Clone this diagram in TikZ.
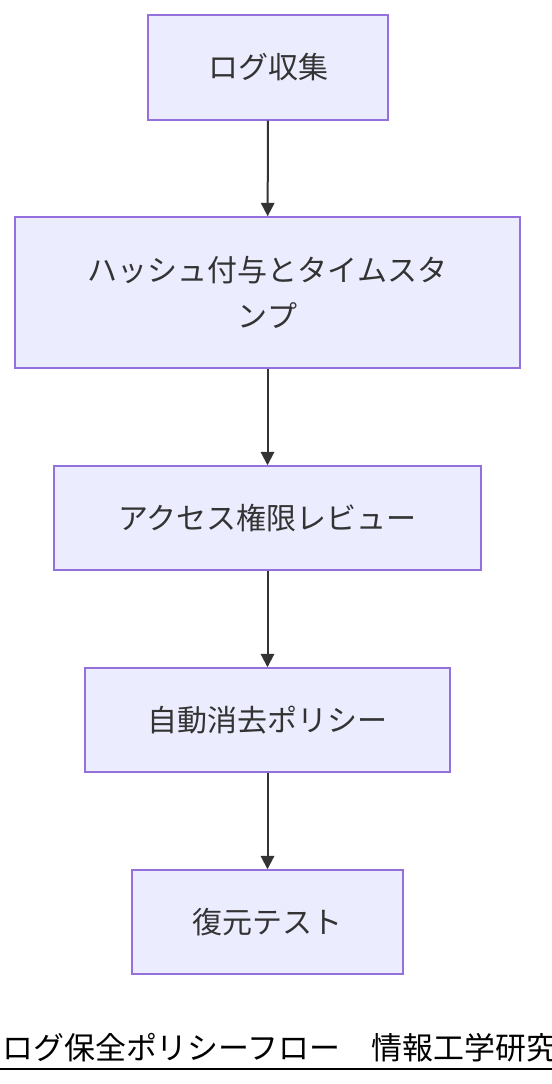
\documentclass[tikz,border=0pt]{standalone}
\usepackage{fontspec}
\setmainfont{Noto Sans CJK JP}
\usetikzlibrary{arrows.meta}
\definecolor{boxfill}{HTML}{ECECFF}
\definecolor{boxline}{HTML}{9370DB}
\definecolor{ink}{HTML}{333333}
\tikzset{
    % Process box style
    procbox/.style={
        rectangle,
        align=center,
        font=\fontsize{22.5pt}{34pt}\selectfont,
        text=ink,
        draw=boxline,
        fill=boxfill,
        line width=1.1pt,
        inner sep=0pt
    },
    % Arrow style
    flow/.style={
        -{Triangle[length=10pt, width=10pt]},
        line width=1.5pt,
        color=ink
    },
    % Caption style
    caption text/.style={
        font=\fontsize{23.2pt}{27pt}\selectfont,
        text=black,
        inner sep=0pt
    }
}
\begin{document}
\begin{tikzpicture}[x=0.75pt, y=-0.75pt]
        \useasboundingbox (0,0) rectangle (552,1084);
        \begin{scope}
        \clip (0,0) rectangle (552,1084);

        % Flow steps
        \node[procbox, minimum width=180pt, minimum height=78.75pt] (collect) at (268, 67.5) {ログ収集};
        \node[procbox, minimum width=378.75pt, minimum height=113.25pt] (hash) at (267.5, 292.5) {ハッシュ付与とタイムスタ\\ンプ};
        \node[procbox, minimum width=320.25pt, minimum height=78pt] (review) at (267.5, 518) {アクセス権限レビュー};
        \node[procbox, minimum width=273.75pt, minimum height=78pt] (purge) at (267.5, 720) {自動消去ポリシー};
        \node[procbox, minimum width=203.25pt, minimum height=78pt] (restore) at (267.5, 922) {復元テスト};

        % Connections
        \draw[flow] (collect) -- (hash);
        \draw[flow] (hash) -- (review);
        \draw[flow] (review) -- (purge);
        \draw[flow] (purge) -- (restore);

        % Caption
        \node[caption text, anchor=base west] (caption) at (2, 1059) {ログ保全ポリシーフロー　情報工学研究};
        \draw[line width=1.5pt, black] (0, 1069) -- (552, 1069);
        \end{scope}

    \end{tikzpicture}
\end{document}
